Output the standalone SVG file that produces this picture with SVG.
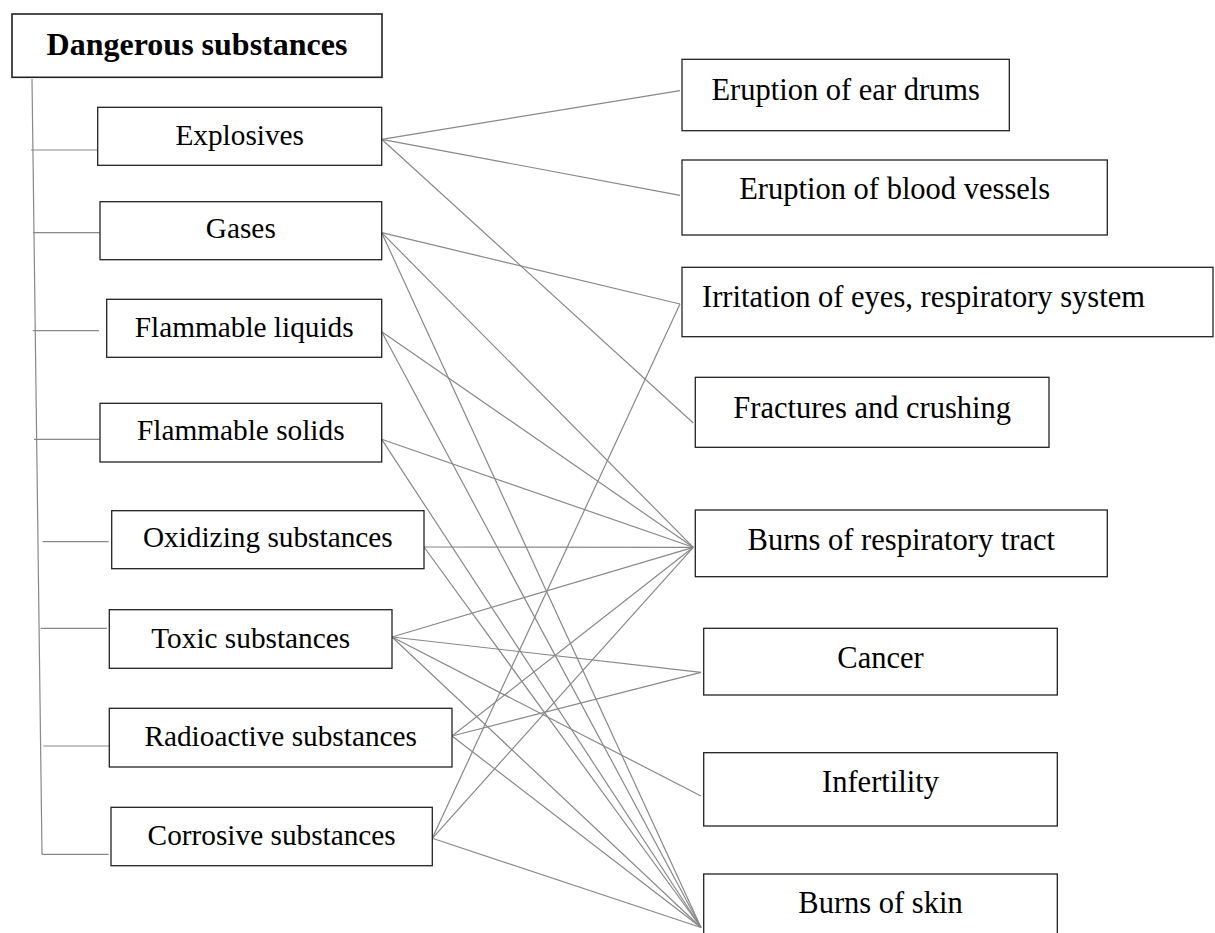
<svg xmlns="http://www.w3.org/2000/svg" width="1215" height="933" viewBox="0 0 1215 933">
<style>
.box{fill:#fff;stroke:#222;stroke-width:1.3}
.lt{font-family:"Liberation Serif","Times New Roman",serif;font-size:29.3px;fill:#000;text-anchor:middle}
.rt{font-family:"Liberation Serif","Times New Roman",serif;font-size:30.5px;fill:#000;text-anchor:middle}
.title{font-family:"Liberation Serif","Times New Roman",serif;font-size:32px;font-weight:bold;fill:#000;text-anchor:middle}
.ln{stroke:#888;stroke-width:1.2;fill:none}
</style>
<rect width="1215" height="933" fill="#fff"/>
<g id="connectors">
<line class="ln" x1="32" y1="79" x2="42" y2="854"/>
<line class="ln" x1="31" y1="150" x2="97.7" y2="150"/>
<line class="ln" x1="33" y1="232.7" x2="100" y2="232.7"/>
<line class="ln" x1="32.7" y1="330.7" x2="99" y2="330.7"/>
<line class="ln" x1="34" y1="439.3" x2="100" y2="439.3"/>
<line class="ln" x1="42.7" y1="541.7" x2="108.7" y2="541.7"/>
<line class="ln" x1="40.7" y1="628.3" x2="107" y2="628.3"/>
<line class="ln" x1="43.3" y1="746" x2="109.3" y2="746"/>
<line class="ln" x1="41.7" y1="854.3" x2="108.7" y2="854.3"/>
<line class="ln" x1="381.7" y1="139.3" x2="680" y2="90.7"/>
<line class="ln" x1="381.7" y1="139.3" x2="680" y2="195.3"/>
<line class="ln" x1="381.7" y1="139.3" x2="693.3" y2="423"/>
<line class="ln" x1="381.7" y1="232.7" x2="680" y2="304"/>
<line class="ln" x1="381.7" y1="232.7" x2="693.3" y2="547.3"/>
<line class="ln" x1="381.7" y1="232.7" x2="701" y2="927.5"/>
<line class="ln" x1="381.7" y1="331.7" x2="693.3" y2="547.3"/>
<line class="ln" x1="381.7" y1="331.7" x2="701" y2="927.5"/>
<line class="ln" x1="381.7" y1="439.3" x2="693.3" y2="547.3"/>
<line class="ln" x1="381.7" y1="439.3" x2="701" y2="927.5"/>
<line class="ln" x1="424" y1="547" x2="693.3" y2="547.3"/>
<line class="ln" x1="424" y1="547" x2="701" y2="927.5"/>
<line class="ln" x1="392" y1="637" x2="693.3" y2="547.3"/>
<line class="ln" x1="392" y1="637" x2="701" y2="672.3"/>
<line class="ln" x1="392" y1="637" x2="701" y2="796"/>
<line class="ln" x1="392" y1="637" x2="701" y2="927.5"/>
<line class="ln" x1="452" y1="736" x2="693.3" y2="547.3"/>
<line class="ln" x1="452" y1="736" x2="701" y2="672.3"/>
<line class="ln" x1="452" y1="736" x2="701" y2="927.5"/>
<line class="ln" x1="432.3" y1="838.3" x2="680" y2="304"/>
<line class="ln" x1="432.3" y1="838.3" x2="693.3" y2="547.3"/>
<line class="ln" x1="432.3" y1="838.3" x2="701" y2="927.5"/>
</g>
<g id="n-dangerous"><rect class="box" x="12" y="14" width="370" height="63.3" style="stroke-width:1.6"/><text class="title" x="197" y="55">Dangerous substances</text></g>
<g id="n-explosives"><rect class="box" x="97.7" y="107.3" width="284" height="58"/><text class="lt" x="239.7" y="145">Explosives</text></g>
<g id="n-gases"><rect class="box" x="100" y="201.7" width="281.7" height="58"/><text class="lt" x="240.8" y="238">Gases</text></g>
<g id="n-liquids"><rect class="box" x="106.7" y="299.3" width="275" height="58"/><text class="lt" x="244.2" y="336.7">Flammable liquids</text></g>
<g id="n-solids"><rect class="box" x="100" y="403.3" width="281.7" height="58.7"/><text class="lt" x="240.8" y="440">Flammable solids</text></g>
<g id="n-oxidizing"><rect class="box" x="111.7" y="510.7" width="312.3" height="58"/><text class="lt" x="267.8" y="546.7">Oxidizing substances</text></g>
<g id="n-toxic"><rect class="box" x="109.3" y="609.7" width="282.7" height="58.6"/><text class="lt" x="250.7" y="647.7">Toxic substances</text></g>
<g id="n-radioactive"><rect class="box" x="109.3" y="708.3" width="342.7" height="58.7"/><text class="lt" x="280.7" y="746">Radioactive substances</text></g>
<g id="n-corrosive"><rect class="box" x="111" y="807.3" width="321.3" height="58.4"/><text class="lt" x="271.7" y="845">Corrosive substances</text></g>
<g id="n-eardrums"><rect class="box" x="682" y="59.3" width="327.3" height="71.4"/><text class="rt" x="845.7" y="100">Eruption of ear drums</text></g>
<g id="n-blood"><rect class="box" x="682" y="160" width="425.3" height="75"/><text class="rt" x="894.7" y="199.3">Eruption of blood vessels</text></g>
<g id="n-irritation"><rect class="box" x="682" y="267.3" width="531" height="69.4"/><text class="rt" x="702" y="306.7" style="text-anchor:start">Irritation of eyes, respiratory system</text></g>
<g id="n-fractures"><rect class="box" x="695.3" y="377.3" width="353.7" height="70"/><text class="rt" x="872.2" y="418.3">Fractures and crushing</text></g>
<g id="n-burnsresp"><rect class="box" x="695.3" y="510" width="412" height="66.7"/><text class="rt" x="901.3" y="550">Burns of respiratory tract</text></g>
<g id="n-cancer"><rect class="box" x="703.7" y="628.3" width="353.6" height="66.7"/><text class="rt" x="880.5" y="668.3">Cancer</text></g>
<g id="n-infertility"><rect class="box" x="703.7" y="752.7" width="353.6" height="73.3"/><text class="rt" x="880.5" y="792.3">Infertility</text></g>
<g id="n-burnsskin"><rect class="box" x="703.7" y="874" width="353.6" height="75"/><text class="rt" x="880.5" y="913.3">Burns of skin</text></g>
</svg>
